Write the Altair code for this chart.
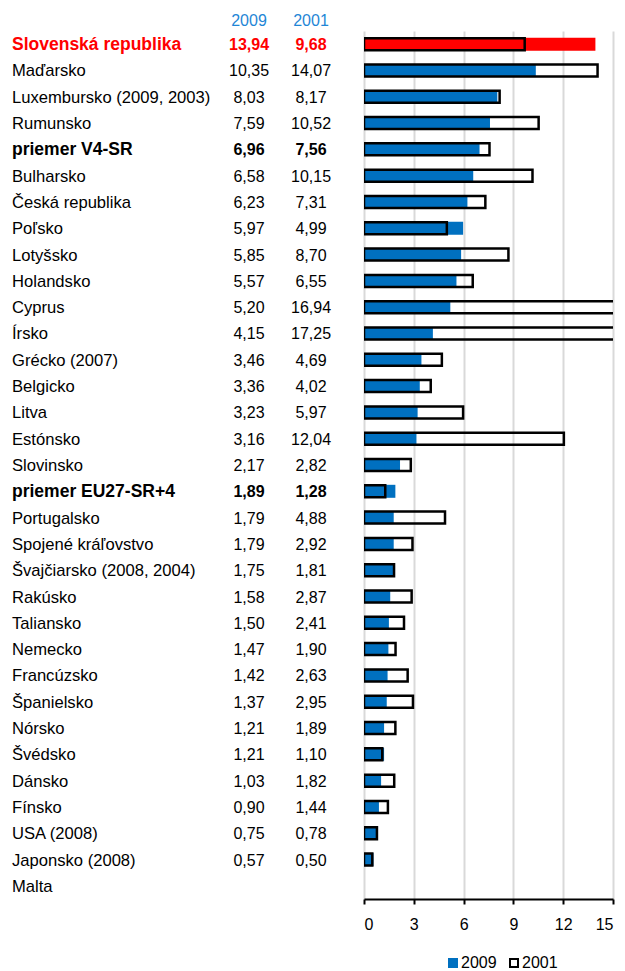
import altair as alt
import pandas as pd

# Countries, top to bottom
countries = [
    "Slovenská republika", "Maďarsko", "Luxembursko (2009, 2003)", "Rumunsko",
    "priemer V4-SR", "Bulharsko", "Česká republika", "Poľsko", "Lotyšsko",
    "Holandsko", "Cyprus", "Írsko", "Grécko (2007)", "Belgicko", "Litva",
    "Estónsko", "Slovinsko", "priemer EU27-SR+4", "Portugalsko",
    "Spojené kráľovstvo", "Švajčiarsko (2008, 2004)", "Rakúsko", "Taliansko",
    "Nemecko", "Francúzsko", "Španielsko", "Nórsko", "Švédsko", "Dánsko",
    "Fínsko", "USA (2008)", "Japonsko (2008)", "Malta",
]
values_2009 = [
    13.94, 10.35, 8.03, 7.59, 6.96, 6.58, 6.23, 5.97, 5.85, 5.57, 5.20, 4.15,
    3.46, 3.36, 3.23, 3.16, 2.17, 1.89, 1.79, 1.79, 1.75, 1.58, 1.50, 1.47,
    1.42, 1.37, 1.21, 1.21, 1.03, 0.90, 0.75, 0.57, None,
]
values_2001 = [
    9.68, 14.07, 8.17, 10.52, 7.56, 10.15, 7.31, 4.99, 8.70, 6.55, 16.94, 17.25,
    4.69, 4.02, 5.97, 12.04, 2.82, 1.28, 4.88, 2.92, 1.81, 2.87, 2.41, 1.90,
    2.63, 2.95, 1.89, 1.10, 1.82, 1.44, 0.78, 0.50, None,
]
series = ["2009", "2001"]
x_ticks = [0, 3, 6, 9, 12, 15]

HOME = "Slovenská republika"
BOLD_ROWS = [HOME, "priemer V4-SR", "priemer EU27-SR+4"]

BLUE = "#0070c0"
HEAD_BLUE = "#1f86d6"
RED = "#ff0000"
FONT = "Liberation Sans"


def fmt(v):
    return "" if v is None else f"{v:.2f}".replace(".", ",")


df = pd.DataFrame({
    "name": countries,
    "v2009": values_2009,
    "v2001": values_2001,
    "t2009": [fmt(v) for v in values_2009],
    "t2001": [fmt(v) for v in values_2001],
    "s2009": series[0],
    "s2001": series[1],
    "bold": [c in BOLD_ROWS for c in countries],
})
heads = pd.DataFrame({"label": series, "col": [0, 1]})

y_enc = alt.Y("name:N", sort=countries, axis=None,
              scale=alt.Scale(domain=countries, paddingInner=0, paddingOuter=0))
x_scale = alt.Scale(domain=[0, 15], nice=False)

is_home = alt.datum.name == HOME

base = alt.Chart(df)

bars_2009 = base.mark_bar(size=13).encode(
    y=y_enc,
    x=alt.X("v2009:Q", scale=x_scale,
            axis=alt.Axis(values=x_ticks, title=None, grid=True,
                          labelFontSize=16)),
    fill=alt.condition(
        is_home, alt.value(RED),
        alt.Fill("s2009:N", title=None,
                 scale=alt.Scale(domain=series, range=[BLUE, "white"])),
    ),
)

bars_2001 = base.mark_bar(size=12, fill="transparent", strokeWidth=2.5,
                          clip=True).encode(
    y=y_enc,
    x=alt.X("v2001:Q", scale=x_scale, axis=None),
    stroke=alt.Stroke("s2001:N", title=None,
                      scale=alt.Scale(domain=series, range=[BLUE, "black"])),
)

text_color = alt.condition(is_home, alt.value(RED), alt.value("black"))


def text_column(field, xpos, align, size_normal, size_bold):
    """One table column, drawn as a normal-weight and a bold layer."""
    layers = []
    for weight, flag, size in (("normal", False, size_normal),
                               ("bold", True, size_bold)):
        layers.append(
            base.transform_filter(alt.datum.bold == flag)
            .mark_text(align=align, baseline="middle", fontSize=size,
                       font=FONT, fontWeight=weight, dy=1)
            .encode(y=y_enc, x=alt.value(xpos), text=f"{field}:N",
                    color=text_color)
        )
    return layers


header = alt.Chart(heads).mark_text(
    align="center", baseline="middle", fontSize=16, font=FONT, color=HEAD_BLUE
).encode(
    x=alt.X("col:Q", scale=alt.Scale(domain=[0, 1], range=[-115, -53]), axis=None),
    y=alt.value(-10),
    text="label:N",
)

chart = alt.layer(
    bars_2009, bars_2001,
    *text_column("name", -352, "left", 16.6, 17.5),
    *text_column("t2009", -115, "center", 16, 16),
    *text_column("t2001", -53, "center", 16, 16),
    header,
).resolve_scale(x="independent").properties(
    width=249,
    height=868,
    padding={"left": 364, "top": 31, "right": 12, "bottom": 72},
    autosize=alt.AutoSizeParams(type="none"),
).configure_view(
    stroke=None,
).configure_axis(
    gridColor="#d9d9d9",
    gridWidth=2,
    domainColor="black",
    domainWidth=2,
    tickColor="black",
    tickWidth=2,
    tickSize=5,
    labelFontSize=16,
    labelFont=FONT,
    labelColor="black",
    labelPadding=12,
).configure_legend(
    orient="none",
    legendX=81,
    legendY=924,
    direction="horizontal",
    labelFontSize=16,
    labelFont=FONT,
    labelColor="black",
    symbolType="square",
    symbolSize=64,
    symbolStrokeWidth=2,
    labelOffset=0,
    columnPadding=9,
)

chart.save("out.html", embed_options={"renderer": "svg", "actions": False})
